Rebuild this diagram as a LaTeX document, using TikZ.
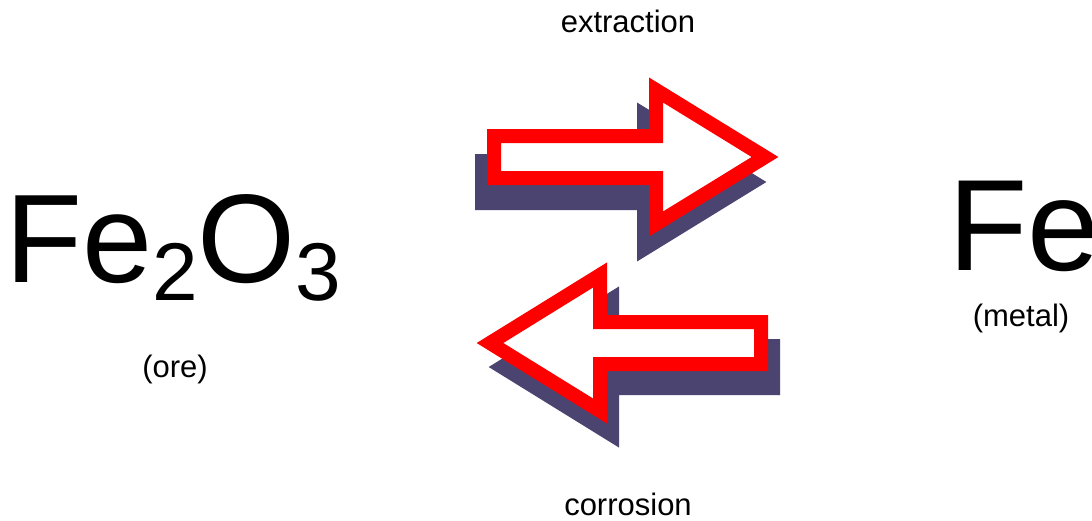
\documentclass[tikz,border=0pt]{standalone}
\usepackage{fontspec}
\setmainfont{Liberation Sans}
\usetikzlibrary{positioning}
\definecolor{shade}{HTML}{4B4370}
\definecolor{arrowred}{HTML}{FF0000}
\newcommand{\subdigit}[1]{\raisebox{-18pt}{\fontsize{82}{86}\selectfont #1}}

\begin{document}
\begin{tikzpicture}[x=1pt,y=-1pt,
  formula/.style={inner sep=0pt,anchor=base west},
  tag/.style={inner sep=0pt,anchor=base,font=\fontsize{31}{36}\selectfont},
  outline/.style={draw=arrowred,fill=white,line width=14pt,line join=miter},
  shadow/.style={draw=shade,fill=shade,line width=14pt,line join=miter}]
 \useasboundingbox (0,0) rectangle (1092,520);
 % shadows
 \draw[shadow,shift={(-12,25)}] (494,136) -- (656,136) -- (656,90) -- (765,157) -- (656,224) -- (656,178) -- (494,178) -- cycle;
 \draw[shadow,shift={(12,24)}] (490,343) -- (600,275) -- (600,322) -- (761,322) -- (761,364) -- (600,364) -- (600,411) -- cycle;
 % arrows
 \draw[outline] (494,136) -- (656,136) -- (656,90) -- (765,157) -- (656,224) -- (656,178) -- (494,178) -- cycle;
 \draw[outline] (490,343) -- (600,275) -- (600,322) -- (761,322) -- (761,364) -- (600,364) -- (600,411) -- cycle;
 % species
 \node[formula,font=\fontsize{126}{130}\selectfont] (ore) at (5,282) {Fe\subdigit{2}O\subdigit{3}};
 \node[formula,font=\fontsize{130}{134}\selectfont] (metal) at (948,270) {Fe};
 \node[tag] (orelabel) at (175,377) {(ore)};
 \node[tag] (metallabel) at (1021,326) {(metal)};
 \node[tag] (fwd) at (628,32) {extraction};
 \node[tag] (back) at (628,515) {corrosion};
\end{tikzpicture}
\end{document}
